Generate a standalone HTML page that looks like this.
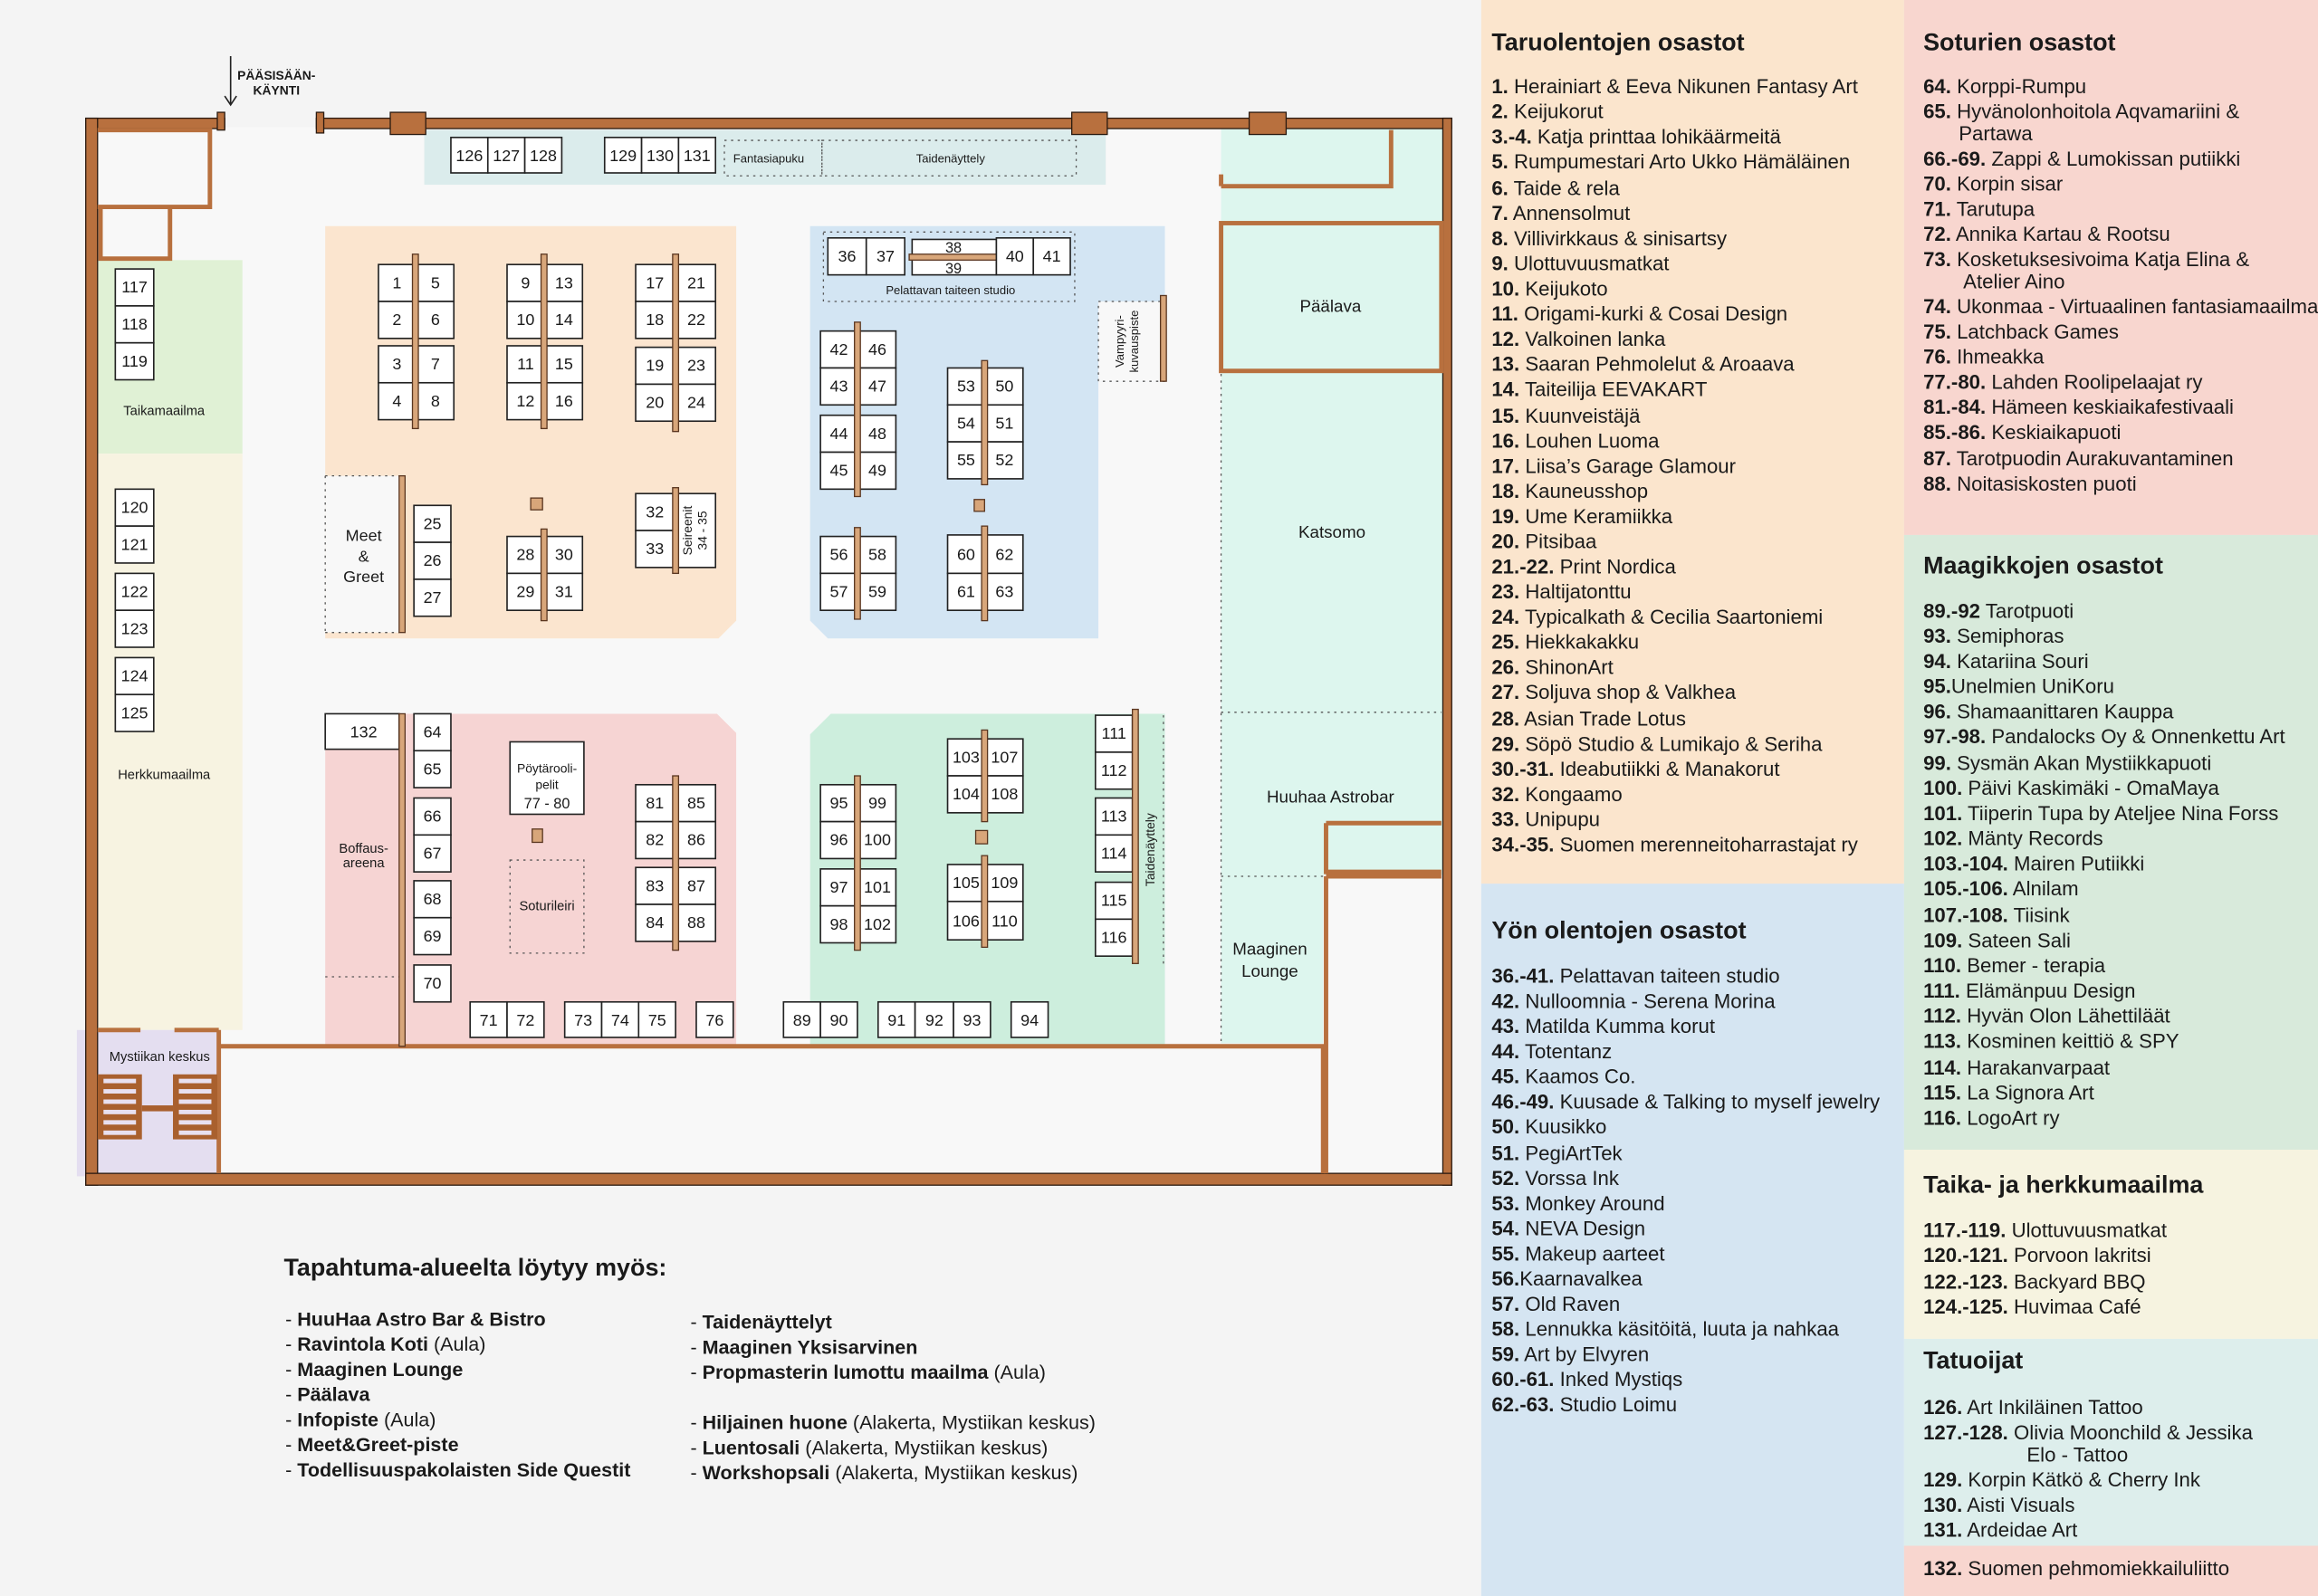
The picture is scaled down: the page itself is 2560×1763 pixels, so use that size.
<!DOCTYPE html>
<html><head><meta charset="utf-8"><style>
html,body{margin:0;padding:0;background:#f4f4f4;}
svg{display:block}
text{font-family:"Liberation Sans",sans-serif;fill:#1a1a1a}
.b{fill:#fff;stroke:#222;stroke-width:1}
.n{font-size:11px;text-anchor:middle}
.bar{fill:#d8a67a;stroke:#5a3620;stroke-width:0.8}
.w{fill:#b8703e;stroke:#2a1a10;stroke-width:0.8}
.wl{fill:none;stroke:#b8703e;stroke-width:3}
.dot{fill:none;stroke:#555;stroke-width:0.8;stroke-dasharray:1.5 3}
.lbl{font-size:9px;text-anchor:middle}
.L text{font-size:13.6px}
.H{font-size:16.5px;font-weight:bold}
</style></head><body>
<svg width="2560" height="1763" viewBox="0 0 1568 1080" preserveAspectRatio="none" xmlns="http://www.w3.org/2000/svg">
<rect x="0" y="0" width="1568" height="1080" fill="#f4f4f4"/>
<!-- right panels -->
<rect x="1002" y="0" width="286" height="598" fill="#fbe5cd"/>
<rect x="1002" y="598" width="286" height="482" fill="#d5e5f2"/>
<rect x="1288" y="0" width="280" height="362" fill="#f8d6cf"/>
<rect x="1288" y="362" width="280" height="416" fill="#d8eadb"/>
<rect x="1288" y="778" width="280" height="128" fill="#f6f3e0"/>
<rect x="1288" y="906" width="280" height="140" fill="#ddeeec"/>
<rect x="1288" y="1046" width="280" height="34" fill="#f8d6cf"/>

<!-- map floor -->
<rect x="64" y="86" width="912" height="710" fill="#f8f8f8"/>
<!-- zones -->
<rect x="287" y="88" width="461" height="37" fill="#dbecec"/>
<path d="M220 153 H498 V420 L486 432 H220 Z" fill="#fbe5cf"/>
<rect x="220" y="322" width="50" height="106" fill="#f8f8f8"/>
<path d="M548 153 H788 V258 H743 V432 H560 L548 420 Z" fill="#d3e5f3"/>
<rect x="743" y="204" width="45" height="54" fill="#f8f8f8"/>
<rect x="64" y="176" width="100" height="131" fill="#e0f1d5"/>
<rect x="64" y="307" width="100" height="390" fill="#f7f3e1"/>
<path d="M220 483 H485 L498 496 V708 H220 Z" fill="#f6d4d3"/>
<path d="M562 483 H788 V708 H548 V497 Z" fill="#cdeedd"/>
<rect x="826" y="86" width="150" height="620" fill="#ddf6ee"/>
<rect x="895" y="592" width="81" height="116" fill="#f8f8f8"/>
<rect x="52" y="697" width="96" height="99" fill="#e4def0"/>

<!-- dotted lines -->
<rect x="490" y="95" width="66" height="24" class="dot"/>
<rect x="556" y="95" width="172" height="24" class="dot"/>
<rect x="557" y="157" width="170" height="47" class="dot"/>
<rect x="743" y="204" width="45" height="54" class="dot"/>
<path d="M220 322 H270 M220 428 H270 M220 322 V428" class="dot"/>
<path d="M220 661 H270" class="dot"/>
<rect x="345" y="582" width="50" height="63" class="dot"/>
<path d="M787 484 V652 M826 253 V706 M826 482 H975 M826 593 H895" class="dot"/>

<!-- walls -->
<rect x="58" y="80" width="94" height="7" class="w"/>
<rect x="147" y="76" width="5" height="12" class="w"/>
<rect x="214" y="80" width="768" height="7" class="w"/>
<rect x="214" y="76" width="5" height="14" class="w"/>
<rect x="264" y="76" width="24" height="15" class="w"/>
<rect x="725" y="76" width="24" height="15" class="w"/>
<rect x="845" y="76" width="25" height="15" class="w"/>
<rect x="58" y="80" width="8" height="722" class="w"/>
<rect x="976" y="80" width="6" height="722" class="w"/>
<rect x="58" y="794" width="924" height="8" class="w"/>
<path d="M66 88 H142 V140 H66 M68 140 V175 H115 V140" class="wl" stroke-width="4"/>
<path d="M148 708 H895 V794 M148 697 V794" class="wl"/>
<path d="M826 126 H941 V88 M826 118 V126" class="wl"/>
<rect x="826" y="151" width="149" height="100" fill="none" stroke="#b8703e" stroke-width="3"/>
<path d="M897 557 H975 M897 557 V590 H975 M897 593 H975 M897 593 V794" class="wl"/>
<path d="M66 697 H95 M118 697 H148" class="wl"/>
<rect x="66" y="727" width="30" height="44" fill="#a9602e"/>
<rect x="117" y="727" width="30" height="44" fill="#a9602e"/>
<rect x="96" y="748" width="21" height="4" fill="#a9602e"/>
<g fill="#e8e0f0"><rect x="70" y="730" width="22" height="3"/><rect x="70" y="737" width="22" height="3"/><rect x="70" y="744" width="22" height="3"/><rect x="70" y="751" width="22" height="3"/><rect x="70" y="758" width="22" height="3"/><rect x="70" y="765" width="22" height="3"/>
<rect x="121" y="730" width="22" height="3"/><rect x="121" y="737" width="22" height="3"/><rect x="121" y="744" width="22" height="3"/><rect x="121" y="751" width="22" height="3"/><rect x="121" y="758" width="22" height="3"/><rect x="121" y="765" width="22" height="3"/></g>
<text x="108" y="718" style="font-size:9px" text-anchor="middle">Mystiikan keskus</text>

<!-- entrance -->
<path d="M156 38 V71 M152 65 L156 71 L160 65" fill="none" stroke="#222" stroke-width="1"/>
<text x="187" y="54" style="font-size:8.5px;font-weight:bold" text-anchor="middle">PÄÄSISÄÄN-</text>
<text x="187" y="64" style="font-size:8.5px;font-weight:bold" text-anchor="middle">KÄYNTI</text>

<!-- booths -->
<g>
<rect class="b" x="305" y="93" width="25" height="24"/><text class="n" x="317.5" y="109">126</text>
<rect class="b" x="330" y="93" width="25" height="24"/><text class="n" x="342.5" y="109">127</text>
<rect class="b" x="355" y="93" width="25" height="24"/><text class="n" x="367.5" y="109">128</text>
<rect class="b" x="409" y="93" width="25" height="24"/><text class="n" x="421.5" y="109">129</text>
<rect class="b" x="434" y="93" width="25" height="24"/><text class="n" x="446.5" y="109">130</text>
<rect class="b" x="459" y="93" width="25" height="24"/><text class="n" x="471.5" y="109">131</text>
</g>
<text class="lbl" x="520" y="110" style="font-size:8px">Fantasiapuku</text>
<text class="lbl" x="643" y="110" style="font-size:8px">Taidenäyttely</text>

<g id="booths">
<!-- peach -->
<rect class="b" x="256" y="179" width="25" height="25"/><text class="n" x="268.5" y="195">1</text>
<rect class="b" x="282" y="179" width="25" height="25"/><text class="n" x="294.5" y="195">5</text>
<rect class="b" x="256" y="204" width="25" height="25"/><text class="n" x="268.5" y="220">2</text>
<rect class="b" x="282" y="204" width="25" height="25"/><text class="n" x="294.5" y="220">6</text>
<rect class="b" x="256" y="234" width="25" height="25"/><text class="n" x="268.5" y="250">3</text>
<rect class="b" x="282" y="234" width="25" height="25"/><text class="n" x="294.5" y="250">7</text>
<rect class="b" x="256" y="259" width="25" height="25"/><text class="n" x="268.5" y="275">4</text>
<rect class="b" x="282" y="259" width="25" height="25"/><text class="n" x="294.5" y="275">8</text>
<rect class="bar" x="279" y="172" width="4" height="118"/>
<rect class="b" x="343" y="179" width="25" height="25"/><text class="n" x="355.5" y="195">9</text>
<rect class="b" x="369" y="179" width="25" height="25"/><text class="n" x="381.5" y="195">13</text>
<rect class="b" x="343" y="204" width="25" height="25"/><text class="n" x="355.5" y="220">10</text>
<rect class="b" x="369" y="204" width="25" height="25"/><text class="n" x="381.5" y="220">14</text>
<rect class="b" x="343" y="234" width="25" height="25"/><text class="n" x="355.5" y="250">11</text>
<rect class="b" x="369" y="234" width="25" height="25"/><text class="n" x="381.5" y="250">15</text>
<rect class="b" x="343" y="259" width="25" height="25"/><text class="n" x="355.5" y="275">12</text>
<rect class="b" x="369" y="259" width="25" height="25"/><text class="n" x="381.5" y="275">16</text>
<rect class="bar" x="366" y="172" width="4" height="118"/>
<rect class="b" x="430" y="179" width="26" height="25"/><text class="n" x="443" y="195">17</text>
<rect class="b" x="458" y="179" width="26" height="25"/><text class="n" x="471" y="195">21</text>
<rect class="b" x="430" y="204" width="26" height="25"/><text class="n" x="443" y="220">18</text>
<rect class="b" x="458" y="204" width="26" height="25"/><text class="n" x="471" y="220">22</text>
<rect class="b" x="430" y="235" width="26" height="25"/><text class="n" x="443" y="251">19</text>
<rect class="b" x="458" y="235" width="26" height="25"/><text class="n" x="471" y="251">23</text>
<rect class="b" x="430" y="260" width="26" height="25"/><text class="n" x="443" y="276">20</text>
<rect class="b" x="458" y="260" width="26" height="25"/><text class="n" x="471" y="276">24</text>
<rect class="bar" x="455" y="172" width="4" height="120"/>
<rect class="b" x="280" y="342" width="25" height="25"/><text class="n" x="292.5" y="358">25</text>
<rect class="b" x="280" y="367" width="25" height="25"/><text class="n" x="292.5" y="383">26</text>
<rect class="b" x="280" y="392" width="25" height="25"/><text class="n" x="292.5" y="408">27</text>
<rect class="bar" x="270" y="322" width="4" height="106"/>
<rect class="b" x="343" y="363" width="25" height="25"/><text class="n" x="355.5" y="379">28</text>
<rect class="b" x="343" y="388" width="25" height="25"/><text class="n" x="355.5" y="404">29</text>
<rect class="b" x="369" y="363" width="25" height="25"/><text class="n" x="381.5" y="379">30</text>
<rect class="b" x="369" y="388" width="25" height="25"/><text class="n" x="381.5" y="404">31</text>
<rect class="bar" x="366" y="358" width="4" height="62"/>
<rect class="b" x="430" y="334" width="26" height="25"/><text class="n" x="443" y="350">32</text>
<rect class="b" x="430" y="359" width="26" height="25"/><text class="n" x="443" y="375">33</text>
<rect class="b" x="458" y="334" width="26" height="50"/>
<text class="n" style="font-size:8.5px" transform="translate(468,359) rotate(-90)">Seireenit</text>
<text class="n" style="font-size:8.5px" transform="translate(478,359) rotate(-90)">34 - 35</text>
<rect class="bar" x="455" y="330" width="4" height="58"/>
<rect class="bar" x="359" y="337" width="8" height="8"/>
<text x="246" y="366" style="font-size:11px" text-anchor="middle">Meet</text>
<text x="246" y="380" style="font-size:11px" text-anchor="middle">&amp;</text>
<text x="246" y="394" style="font-size:11px" text-anchor="middle">Greet</text>

<!-- blue -->
<rect class="b" x="560" y="161" width="26" height="25"/><text class="n" x="573" y="177">36</text>
<rect class="b" x="586" y="161" width="26" height="25"/><text class="n" x="599" y="177">37</text>
<rect class="b" x="617" y="162" width="57" height="24"/>
<text class="n" x="645" y="171" style="font-size:10px">38</text><text class="n" x="645" y="185" style="font-size:10px">39</text>
<rect class="bar" x="615" y="172" width="62" height="4"/>
<rect class="b" x="674" y="161" width="25" height="25"/><text class="n" x="686.5" y="177">40</text>
<rect class="b" x="699" y="161" width="25" height="25"/><text class="n" x="711.5" y="177">41</text>
<text class="lbl" x="643" y="199" style="font-size:8px">Pelattavan taiteen studio</text>
<text class="n" style="font-size:8px" transform="translate(760,231) rotate(-90)">Vampyyri-</text>
<text class="n" style="font-size:8px" transform="translate(770,231) rotate(-90)">kuvauspiste</text>
<rect class="bar" x="785" y="200" width="4" height="58"/>
<rect class="b" x="555" y="224" width="25" height="25"/><text class="n" x="567.5" y="240">42</text>
<rect class="b" x="555" y="249" width="25" height="25"/><text class="n" x="567.5" y="265">43</text>
<rect class="b" x="555" y="281" width="25" height="25"/><text class="n" x="567.5" y="297">44</text>
<rect class="b" x="555" y="306" width="25" height="25"/><text class="n" x="567.5" y="322">45</text>
<rect class="b" x="581" y="224" width="25" height="25"/><text class="n" x="593.5" y="240">46</text>
<rect class="b" x="581" y="249" width="25" height="25"/><text class="n" x="593.5" y="265">47</text>
<rect class="b" x="581" y="281" width="25" height="25"/><text class="n" x="593.5" y="297">48</text>
<rect class="b" x="581" y="306" width="25" height="25"/><text class="n" x="593.5" y="322">49</text>
<rect class="bar" x="578" y="218" width="4" height="118"/>
<rect class="b" x="641" y="249" width="25" height="25"/><text class="n" x="653.5" y="265">53</text>
<rect class="b" x="641" y="274" width="25" height="25"/><text class="n" x="653.5" y="290">54</text>
<rect class="b" x="641" y="299" width="25" height="25"/><text class="n" x="653.5" y="315">55</text>
<rect class="b" x="667" y="249" width="25" height="25"/><text class="n" x="679.5" y="265">50</text>
<rect class="b" x="667" y="274" width="25" height="25"/><text class="n" x="679.5" y="290">51</text>
<rect class="b" x="667" y="299" width="25" height="25"/><text class="n" x="679.5" y="315">52</text>
<rect class="bar" x="664" y="244" width="4" height="84"/>
<rect class="bar" x="659" y="338" width="7" height="8"/>
<rect class="b" x="555" y="363" width="25" height="25"/><text class="n" x="567.5" y="379">56</text>
<rect class="b" x="555" y="388" width="25" height="25"/><text class="n" x="567.5" y="404">57</text>
<rect class="b" x="581" y="363" width="25" height="25"/><text class="n" x="593.5" y="379">58</text>
<rect class="b" x="581" y="388" width="25" height="25"/><text class="n" x="593.5" y="404">59</text>
<rect class="bar" x="578" y="357" width="4" height="62"/>
<rect class="b" x="641" y="362" width="25" height="26"/><text class="n" x="653.5" y="379">60</text>
<rect class="b" x="641" y="388" width="25" height="25"/><text class="n" x="653.5" y="404">61</text>
<rect class="b" x="667" y="362" width="25" height="26"/><text class="n" x="679.5" y="379">62</text>
<rect class="b" x="667" y="388" width="25" height="25"/><text class="n" x="679.5" y="404">63</text>
<rect class="bar" x="664" y="356" width="4" height="64"/>

<!-- pink -->
<rect class="b" x="220" y="483" width="50" height="24"/><text class="n" x="246" y="499">132</text>
<rect class="b" x="280" y="483" width="25" height="25"/><text class="n" x="292.5" y="499">64</text>
<rect class="b" x="280" y="508" width="25" height="25"/><text class="n" x="292.5" y="524">65</text>
<rect class="b" x="280" y="540" width="25" height="25"/><text class="n" x="292.5" y="556">66</text>
<rect class="b" x="280" y="565" width="25" height="25"/><text class="n" x="292.5" y="581">67</text>
<rect class="b" x="280" y="596" width="25" height="25"/><text class="n" x="292.5" y="612">68</text>
<rect class="b" x="280" y="621" width="25" height="25"/><text class="n" x="292.5" y="637">69</text>
<rect class="b" x="280" y="653" width="25" height="25"/><text class="n" x="292.5" y="669">70</text>
<rect class="bar" x="270" y="483" width="4" height="225"/>
<text x="246" y="577" class="lbl">Boffaus-</text><text x="246" y="587" class="lbl">areena</text>
<rect class="b" x="345" y="502" width="50" height="49"/>
<text class="lbl" x="370" y="523" style="font-size:8.5px">Pöytärooli-</text>
<text class="lbl" x="370" y="534" style="font-size:8.5px">pelit</text>
<text class="lbl" x="370" y="547" style="font-size:10px">77 - 80</text>
<rect class="bar" x="360" y="561" width="7" height="9"/>
<text class="lbl" x="370" y="616">Soturileiri</text>
<rect class="b" x="430" y="531" width="26" height="25"/><text class="n" x="443" y="547">81</text>
<rect class="b" x="430" y="556" width="26" height="25"/><text class="n" x="443" y="572">82</text>
<rect class="b" x="430" y="587" width="26" height="25"/><text class="n" x="443" y="603">83</text>
<rect class="b" x="430" y="612" width="26" height="25"/><text class="n" x="443" y="628">84</text>
<rect class="b" x="458" y="531" width="26" height="25"/><text class="n" x="471" y="547">85</text>
<rect class="b" x="458" y="556" width="26" height="25"/><text class="n" x="471" y="572">86</text>
<rect class="b" x="458" y="587" width="26" height="25"/><text class="n" x="471" y="603">87</text>
<rect class="b" x="458" y="612" width="26" height="25"/><text class="n" x="471" y="628">88</text>
<rect class="bar" x="455" y="525" width="4" height="118"/>
<rect class="b" x="318" y="678" width="25" height="24"/><text class="n" x="330.5" y="694">71</text>
<rect class="b" x="343" y="678" width="25" height="24"/><text class="n" x="355.5" y="694">72</text>
<rect class="b" x="382" y="678" width="25" height="24"/><text class="n" x="394.5" y="694">73</text>
<rect class="b" x="407" y="678" width="25" height="24"/><text class="n" x="419.5" y="694">74</text>
<rect class="b" x="432" y="678" width="25" height="24"/><text class="n" x="444.5" y="694">75</text>
<rect class="b" x="471" y="678" width="25" height="24"/><text class="n" x="483.5" y="694">76</text>

<!-- green -->
<rect class="b" x="555" y="531" width="25" height="25"/><text class="n" x="567.5" y="547">95</text>
<rect class="b" x="555" y="556" width="25" height="25"/><text class="n" x="567.5" y="572">96</text>
<rect class="b" x="555" y="588" width="25" height="25"/><text class="n" x="567.5" y="604">97</text>
<rect class="b" x="555" y="613" width="25" height="25"/><text class="n" x="567.5" y="629">98</text>
<rect class="b" x="581" y="531" width="25" height="25"/><text class="n" x="593.5" y="547">99</text>
<rect class="b" x="581" y="556" width="25" height="25"/><text class="n" x="593.5" y="572">100</text>
<rect class="b" x="581" y="588" width="25" height="25"/><text class="n" x="593.5" y="604">101</text>
<rect class="b" x="581" y="613" width="25" height="25"/><text class="n" x="593.5" y="629">102</text>
<rect class="bar" x="578" y="525" width="4" height="118"/>
<rect class="b" x="641" y="500" width="25" height="25"/><text class="n" x="653.5" y="516">103</text>
<rect class="b" x="641" y="525" width="25" height="25"/><text class="n" x="653.5" y="541">104</text>
<rect class="b" x="667" y="500" width="25" height="25"/><text class="n" x="679.5" y="516">107</text>
<rect class="b" x="667" y="525" width="25" height="25"/><text class="n" x="679.5" y="541">108</text>
<rect class="bar" x="664" y="494" width="4" height="62"/>
<rect class="bar" x="660" y="562" width="8" height="9"/>
<rect class="b" x="641" y="585" width="25" height="25"/><text class="n" x="653.5" y="601">105</text>
<rect class="b" x="641" y="610" width="25" height="26"/><text class="n" x="653.5" y="627">106</text>
<rect class="b" x="667" y="585" width="25" height="25"/><text class="n" x="679.5" y="601">109</text>
<rect class="b" x="667" y="610" width="25" height="26"/><text class="n" x="679.5" y="627">110</text>
<rect class="bar" x="664" y="579" width="4" height="62"/>
<rect class="b" x="741" y="484" width="25" height="25"/><text class="n" x="753.5" y="500">111</text>
<rect class="b" x="741" y="509" width="25" height="25"/><text class="n" x="753.5" y="525">112</text>
<rect class="b" x="741" y="540" width="25" height="25"/><text class="n" x="753.5" y="556">113</text>
<rect class="b" x="741" y="565" width="25" height="25"/><text class="n" x="753.5" y="581">114</text>
<rect class="b" x="741" y="597" width="25" height="25"/><text class="n" x="753.5" y="613">115</text>
<rect class="b" x="741" y="622" width="25" height="25"/><text class="n" x="753.5" y="638">116</text>
<rect class="bar" x="766" y="480" width="4" height="172"/>
<text class="n" style="font-size:8.5px" transform="translate(781,575) rotate(-90)">Taidenäyttely</text>
<rect class="b" x="530" y="678" width="25" height="24"/><text class="n" x="542.5" y="694">89</text>
<rect class="b" x="555" y="678" width="25" height="24"/><text class="n" x="567.5" y="694">90</text>
<rect class="b" x="594" y="678" width="25" height="24"/><text class="n" x="606.5" y="694">91</text>
<rect class="b" x="619" y="678" width="26" height="24"/><text class="n" x="632" y="694">92</text>
<rect class="b" x="645" y="678" width="25" height="24"/><text class="n" x="657.5" y="694">93</text>
<rect class="b" x="684" y="678" width="25" height="24"/><text class="n" x="696.5" y="694">94</text>

<!-- left -->
<rect class="b" x="78" y="182" width="26" height="25"/><text class="n" x="91" y="198">117</text>
<rect class="b" x="78" y="207" width="26" height="25"/><text class="n" x="91" y="223">118</text>
<rect class="b" x="78" y="232" width="26" height="25"/><text class="n" x="91" y="248">119</text>
<rect class="b" x="78" y="331" width="26" height="25"/><text class="n" x="91" y="347">120</text>
<rect class="b" x="78" y="356" width="26" height="25"/><text class="n" x="91" y="372">121</text>
<rect class="b" x="78" y="388" width="26" height="25"/><text class="n" x="91" y="404">122</text>
<rect class="b" x="78" y="413" width="26" height="25"/><text class="n" x="91" y="429">123</text>
<rect class="b" x="78" y="445" width="26" height="25"/><text class="n" x="91" y="461">124</text>
<rect class="b" x="78" y="470" width="26" height="25"/><text class="n" x="91" y="486">125</text>
<text class="lbl" x="111" y="281">Taikamaailma</text>
<text class="lbl" x="111" y="527">Herkkumaailma</text>
</g>
<text x="900" y="211" style="font-size:11.5px" text-anchor="middle">Päälava</text>
<text x="901" y="364" style="font-size:11.5px" text-anchor="middle">Katsomo</text>
<text x="900" y="543" style="font-size:11.5px" text-anchor="middle">Huuhaa Astrobar</text>
<text x="859" y="646" style="font-size:11.5px" text-anchor="middle">Maaginen</text>
<text x="859" y="661" style="font-size:11.5px" text-anchor="middle">Lounge</text>

<!-- bottom text -->
<text x="192" y="863" style="font-size:16.5px;font-weight:bold">Tapahtuma-alueelta löytyy myös:</text>
<g style="font-size:13.2px">
<text x="193" y="897">- <tspan font-weight="bold">HuuHaa Astro Bar &amp; Bistro</tspan></text>
<text x="193" y="914">- <tspan font-weight="bold">Ravintola Koti</tspan> (Aula)</text>
<text x="193" y="931">- <tspan font-weight="bold">Maaginen Lounge</tspan></text>
<text x="193" y="948">- <tspan font-weight="bold">Päälava</tspan></text>
<text x="193" y="965">- <tspan font-weight="bold">Infopiste</tspan> (Aula)</text>
<text x="193" y="982">- <tspan font-weight="bold">Meet&amp;Greet-piste</tspan></text>
<text x="193" y="999">- <tspan font-weight="bold">Todellisuuspakolaisten Side Questit</tspan></text>
<text x="467" y="899">- <tspan font-weight="bold">Taidenäyttelyt</tspan></text>
<text x="467" y="916">- <tspan font-weight="bold">Maaginen Yksisarvinen</tspan></text>
<text x="467" y="933">- <tspan font-weight="bold">Propmasterin lumottu maailma</tspan> (Aula)</text>
<text x="467" y="967">- <tspan font-weight="bold">Hiljainen huone</tspan> (Alakerta, Mystiikan keskus)</text>
<text x="467" y="984">- <tspan font-weight="bold">Luentosali</tspan> (Alakerta, Mystiikan keskus)</text>
<text x="467" y="1001">- <tspan font-weight="bold">Workshopsali</tspan> (Alakerta, Mystiikan keskus)</text>
</g>

<!-- legend col 1 -->
<text class="H" x="1009" y="34">Taruolentojen osastot</text>
<g class="L">
<text x="1009" y="63"><tspan font-weight="bold">1.</tspan> Herainiart &amp; Eeva Nikunen Fantasy Art</text>
<text x="1009" y="80"><tspan font-weight="bold">2.</tspan> Keijukorut</text>
<text x="1009" y="97"><tspan font-weight="bold">3.-4.</tspan> Katja printtaa lohikäärmeitä</text>
<text x="1009" y="114"><tspan font-weight="bold">5.</tspan> Rumpumestari Arto Ukko Hämäläinen</text>
<text x="1009" y="132"><tspan font-weight="bold">6.</tspan> Taide &amp; rela</text>
<text x="1009" y="149"><tspan font-weight="bold">7.</tspan> Annensolmut</text>
<text x="1009" y="166"><tspan font-weight="bold">8.</tspan> Villivirkkaus &amp; sinisartsy</text>
<text x="1009" y="183"><tspan font-weight="bold">9.</tspan> Ulottuvuusmatkat</text>
<text x="1009" y="200"><tspan font-weight="bold">10.</tspan> Keijukoto</text>
<text x="1009" y="217"><tspan font-weight="bold">11.</tspan> Origami-kurki &amp; Cosai Design</text>
<text x="1009" y="234"><tspan font-weight="bold">12.</tspan> Valkoinen lanka</text>
<text x="1009" y="251"><tspan font-weight="bold">13.</tspan> Saaran Pehmolelut &amp; Aroaava</text>
<text x="1009" y="268"><tspan font-weight="bold">14.</tspan> Taiteilija EEVAKART</text>
<text x="1009" y="286"><tspan font-weight="bold">15.</tspan> Kuunveistäjä</text>
<text x="1009" y="303"><tspan font-weight="bold">16.</tspan> Louhen Luoma</text>
<text x="1009" y="320"><tspan font-weight="bold">17.</tspan> Liisa’s Garage Glamour</text>
<text x="1009" y="337"><tspan font-weight="bold">18.</tspan> Kauneusshop</text>
<text x="1009" y="354"><tspan font-weight="bold">19.</tspan> Ume Keramiikka</text>
<text x="1009" y="371"><tspan font-weight="bold">20.</tspan> Pitsibaa</text>
<text x="1009" y="388"><tspan font-weight="bold">21.-22.</tspan> Print Nordica</text>
<text x="1009" y="405"><tspan font-weight="bold">23.</tspan> Haltijatonttu</text>
<text x="1009" y="422"><tspan font-weight="bold">24.</tspan> Typicalkath &amp; Cecilia Saartoniemi</text>
<text x="1009" y="439"><tspan font-weight="bold">25.</tspan> Hiekkakakku</text>
<text x="1009" y="456"><tspan font-weight="bold">26.</tspan> ShinonArt</text>
<text x="1009" y="473"><tspan font-weight="bold">27.</tspan> Soljuva shop &amp; Valkhea</text>
<text x="1009" y="491"><tspan font-weight="bold">28.</tspan> Asian Trade Lotus</text>
<text x="1009" y="508"><tspan font-weight="bold">29.</tspan> Söpö Studio &amp; Lumikajo &amp; Seriha</text>
<text x="1009" y="525"><tspan font-weight="bold">30.-31.</tspan> Ideabutiikki &amp; Manakorut</text>
<text x="1009" y="542"><tspan font-weight="bold">32.</tspan> Kongaamo</text>
<text x="1009" y="559"><tspan font-weight="bold">33.</tspan> Unipupu</text>
<text x="1009" y="576"><tspan font-weight="bold">34.-35.</tspan> Suomen merenneitoharrastajat ry</text>
</g>
<text class="H" x="1009" y="635">Yön olentojen osastot</text>
<g class="L">
<text x="1009" y="665"><tspan font-weight="bold">36.-41.</tspan> Pelattavan taiteen studio</text>
<text x="1009" y="682"><tspan font-weight="bold">42.</tspan> Nulloomnia - Serena Morina</text>
<text x="1009" y="699"><tspan font-weight="bold">43.</tspan> Matilda Kumma korut</text>
<text x="1009" y="716"><tspan font-weight="bold">44.</tspan> Totentanz</text>
<text x="1009" y="733"><tspan font-weight="bold">45.</tspan> Kaamos Co.</text>
<text x="1009" y="750"><tspan font-weight="bold">46.-49.</tspan> Kuusade &amp; Talking to myself jewelry</text>
<text x="1009" y="767"><tspan font-weight="bold">50.</tspan> Kuusikko</text>
<text x="1009" y="785"><tspan font-weight="bold">51.</tspan> PegiArtTek</text>
<text x="1009" y="802"><tspan font-weight="bold">52.</tspan> Vorssa Ink</text>
<text x="1009" y="819"><tspan font-weight="bold">53.</tspan> Monkey Around</text>
<text x="1009" y="836"><tspan font-weight="bold">54.</tspan> NEVA Design</text>
<text x="1009" y="853"><tspan font-weight="bold">55.</tspan> Makeup aarteet</text>
<text x="1009" y="870"><tspan font-weight="bold">56.</tspan>Kaarnavalkea</text>
<text x="1009" y="887"><tspan font-weight="bold">57.</tspan> Old Raven</text>
<text x="1009" y="904"><tspan font-weight="bold">58.</tspan> Lennukka käsitöitä, luuta ja nahkaa</text>
<text x="1009" y="921"><tspan font-weight="bold">59.</tspan> Art by Elvyren</text>
<text x="1009" y="938"><tspan font-weight="bold">60.-61.</tspan> Inked Mystiqs</text>
<text x="1009" y="955"><tspan font-weight="bold">62.-63.</tspan> Studio Loimu</text>
</g>

<!-- legend col 2 -->
<text class="H" x="1301" y="34">Soturien osastot</text>
<g class="L">
<text x="1301" y="63"><tspan font-weight="bold">64.</tspan> Korppi-Rumpu</text>
<text x="1301" y="80"><tspan font-weight="bold">65.</tspan> Hyvänolonhoitola Aqvamariini &amp;</text>
<text x="1325" y="95">Partawa</text>
<text x="1301" y="112"><tspan font-weight="bold">66.-69.</tspan> Zappi &amp; Lumokissan putiikki</text>
<text x="1301" y="129"><tspan font-weight="bold">70.</tspan> Korpin sisar</text>
<text x="1301" y="146"><tspan font-weight="bold">71.</tspan> Tarutupa</text>
<text x="1301" y="163"><tspan font-weight="bold">72.</tspan> Annika Kartau &amp; Rootsu</text>
<text x="1301" y="180"><tspan font-weight="bold">73.</tspan> Kosketuksesivoima Katja Elina &amp;</text>
<text x="1328" y="195">Atelier Aino</text>
<text x="1301" y="212"><tspan font-weight="bold">74.</tspan> Ukonmaa - Virtuaalinen fantasiamaailma</text>
<text x="1301" y="229"><tspan font-weight="bold">75.</tspan> Latchback Games</text>
<text x="1301" y="246"><tspan font-weight="bold">76.</tspan> Ihmeakka</text>
<text x="1301" y="263"><tspan font-weight="bold">77.-80.</tspan> Lahden Roolipelaajat ry</text>
<text x="1301" y="280"><tspan font-weight="bold">81.-84.</tspan> Hämeen keskiaikafestivaali</text>
<text x="1301" y="297"><tspan font-weight="bold">85.-86.</tspan> Keskiaikapuoti</text>
<text x="1301" y="315"><tspan font-weight="bold">87.</tspan> Tarotpuodin Aurakuvantaminen</text>
<text x="1301" y="332"><tspan font-weight="bold">88.</tspan> Noitasiskosten puoti</text>
</g>
<text class="H" x="1301" y="388">Maagikkojen osastot</text>
<g class="L">
<text x="1301" y="418"><tspan font-weight="bold">89.-92</tspan> Tarotpuoti</text>
<text x="1301" y="435"><tspan font-weight="bold">93.</tspan> Semiphoras</text>
<text x="1301" y="452"><tspan font-weight="bold">94.</tspan> Katariina Souri</text>
<text x="1301" y="469"><tspan font-weight="bold">95.</tspan>Unelmien UniKoru</text>
<text x="1301" y="486"><tspan font-weight="bold">96.</tspan> Shamaanittaren Kauppa</text>
<text x="1301" y="503"><tspan font-weight="bold">97.-98.</tspan> Pandalocks Oy &amp; Onnenkettu Art</text>
<text x="1301" y="521"><tspan font-weight="bold">99.</tspan> Sysmän Akan Mystiikkapuoti</text>
<text x="1301" y="538"><tspan font-weight="bold">100.</tspan> Päivi Kaskimäki - OmaMaya</text>
<text x="1301" y="555"><tspan font-weight="bold">101.</tspan> Tiiperin Tupa by Ateljee Nina Forss</text>
<text x="1301" y="572"><tspan font-weight="bold">102.</tspan> Mänty Records</text>
<text x="1301" y="589"><tspan font-weight="bold">103.-104.</tspan> Mairen Putiikki</text>
<text x="1301" y="606"><tspan font-weight="bold">105.-106.</tspan> Alnilam</text>
<text x="1301" y="624"><tspan font-weight="bold">107.-108.</tspan> Tiisink</text>
<text x="1301" y="641"><tspan font-weight="bold">109.</tspan> Sateen Sali</text>
<text x="1301" y="658"><tspan font-weight="bold">110.</tspan> Bemer - terapia</text>
<text x="1301" y="675"><tspan font-weight="bold">111.</tspan> Elämänpuu Design</text>
<text x="1301" y="692"><tspan font-weight="bold">112.</tspan> Hyvän Olon Lähettiläät</text>
<text x="1301" y="709"><tspan font-weight="bold">113.</tspan> Kosminen keittiö &amp; SPY</text>
<text x="1301" y="727"><tspan font-weight="bold">114.</tspan> Harakanvarpaat</text>
<text x="1301" y="744"><tspan font-weight="bold">115.</tspan> La Signora Art</text>
<text x="1301" y="761"><tspan font-weight="bold">116.</tspan> LogoArt ry</text>
</g>
<text class="H" x="1301" y="807">Taika- ja herkkumaailma</text>
<g class="L">
<text x="1301" y="837"><tspan font-weight="bold">117.-119.</tspan> Ulottuvuusmatkat</text>
<text x="1301" y="854"><tspan font-weight="bold">120.-121.</tspan> Porvoon lakritsi</text>
<text x="1301" y="872"><tspan font-weight="bold">122.-123.</tspan> Backyard BBQ</text>
<text x="1301" y="889"><tspan font-weight="bold">124.-125.</tspan> Huvimaa Café</text>
</g>
<text class="H" x="1301" y="926">Tatuoijat</text>
<g class="L">
<text x="1301" y="957"><tspan font-weight="bold">126.</tspan> Art Inkiläinen Tattoo</text>
<text x="1301" y="974"><tspan font-weight="bold">127.-128.</tspan> Olivia Moonchild &amp; Jessika</text>
<text x="1371" y="989">Elo - Tattoo</text>
<text x="1301" y="1006"><tspan font-weight="bold">129.</tspan> Korpin Kätkö &amp; Cherry Ink</text>
<text x="1301" y="1023"><tspan font-weight="bold">130.</tspan> Aisti Visuals</text>
<text x="1301" y="1040"><tspan font-weight="bold">131.</tspan> Ardeidae Art</text>
<text x="1301" y="1066"><tspan font-weight="bold">132.</tspan> Suomen pehmomiekkailuliitto</text>
</g>
</svg>
</body></html>
